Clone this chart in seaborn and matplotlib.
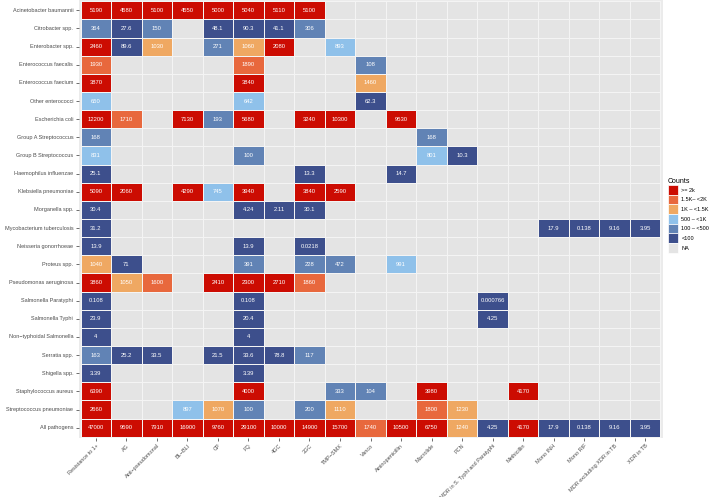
import numpy as np
import pandas as pd
import seaborn as sns
import matplotlib
matplotlib.use("Agg")
import matplotlib.pyplot as plt
from matplotlib.colors import ListedColormap
from matplotlib.patches import Patch

plt.rcParams["font.family"] = ["Liberation Sans", "DejaVu Sans"]

N = np.nan

pathogens = [
    "Acinetobacter baumannii", "Citrobacter spp.", "Enterobacter spp.",
    "Enterococcus faecalis", "Enterococcus faecium", "Other enterococci",
    "Escherichia coli", "Group A Streptococcus", "Group B Streptococcus",
    "Haemophilus influenzae", "Klebsiella pneumoniae", "Morganella spp.",
    "Mycobacterium tuberculosis", "Neisseria gonorrhoeae", "Proteus spp.",
    "Pseudomonas aeruginosa", "Salmonella Paratyphi", "Salmonella Typhi",
    "Non\u2212typhoidal Salmonella", "Serratia spp.", "Shigella spp.",
    "Staphylococcus aureus", "Streptococcus pneumoniae", "All pathogens",
]

classes = [
    "Resistance to 1+", "AG", "Anti\u2212pseudomonal", "BL\u2212BLI", "CP", "FQ",
    "4GC", "3GC", "TMP\u2212SMX", "Vanco", "Aminopenicillin", "Macrolide", "PCN",
    "MDR in S. Typhi and Paratyphi", "Methicillin", "Mono INH", "Mono RIF",
    "MDR excluding XDR in TB", "XDR in TB",
]

values = [
    [5190, 4580, 5100, 4550, 5000, 5040, 5110, 5100, N, N, N, N, N, N, N, N, N, N, N],
    [364, 27.6, 150, N, 48.1, 90.3, 41.1, 306, N, N, N, N, N, N, N, N, N, N, N],
    [2460, 89.6, 1030, N, 271, 1060, 2080, N, 893, N, N, N, N, N, N, N, N, N, N],
    [1930, N, N, N, N, 1890, N, N, N, 108, N, N, N, N, N, N, N, N, N],
    [3870, N, N, N, N, 3840, N, N, N, 1460, N, N, N, N, N, N, N, N, N],
    [650, N, N, N, N, 642, N, N, N, 62.3, N, N, N, N, N, N, N, N, N],
    [12200, 1710, N, 7130, 193, 5680, N, 3240, 10300, N, 9530, N, N, N, N, N, N, N, N],
    [168, N, N, N, N, N, N, N, N, N, N, 168, N, N, N, N, N, N, N],
    [831, N, N, N, N, 100, N, N, N, N, N, 801, 10.3, N, N, N, N, N, N],
    [25.1, N, N, N, N, N, N, 13.3, N, N, 14.7, N, N, N, N, N, N, N, N],
    [5090, 2060, N, 4290, 745, 3940, N, 3840, 2590, N, N, N, N, N, N, N, N, N, N],
    [30.4, N, N, N, N, 4.24, 2.11, 30.1, N, N, N, N, N, N, N, N, N, N, N],
    [31.2, N, N, N, N, N, N, N, N, N, N, N, N, N, N, 17.9, 0.138, 9.16, 3.95],
    [13.9, N, N, N, N, 13.9, N, 0.0218, N, N, N, N, N, N, N, N, N, N, N],
    [1040, 71, N, N, N, 391, N, 228, 472, N, 991, N, N, N, N, N, N, N, N],
    [3860, 1050, 1600, N, 2410, 2300, 2710, 1860, N, N, N, N, N, N, N, N, N, N, N],
    [0.108, N, N, N, N, 0.108, N, N, N, N, N, N, N, 0.000766, N, N, N, N, N],
    [23.9, N, N, N, N, 20.4, N, N, N, N, N, N, N, 4.25, N, N, N, N, N],
    [4, N, N, N, N, 4, N, N, N, N, N, N, N, N, N, N, N, N, N],
    [163, 25.2, 33.5, N, 21.5, 33.6, 78.8, 117, N, N, N, N, N, N, N, N, N, N, N],
    [3.39, N, N, N, N, 3.39, N, N, N, N, N, N, N, N, N, N, N, N, N],
    [6390, N, N, N, N, 4000, N, N, 333, 104, N, 3980, N, N, 4170, N, N, N, N],
    [2660, N, N, 897, 1070, 100, N, 200, 1110, N, N, 1800, 1230, N, N, N, N, N, N],
    [47000, 9590, 7910, 16900, 9760, 29100, 10000, 14900, 15700, 1740, 10500, 6750,
     1240, 4.25, 4170, 17.9, 0.138, 9.16, 3.95],
]

bin_labels = [">= 2k", "1.5K\u2013 <2K", "1K \u2013 <1.5K", "500 \u2013 <1K",
              "100 \u2013 <500", "<100", "NA"]
bin_colors = ["#CC0C02", "#E8683D", "#EFA862", "#8FC1EA", "#6183B5", "#3D4F8C", "#E4E4E4"]
bin_edges = [2000, 1500, 1000, 500, 100]

df = pd.DataFrame(values, index=pathogens, columns=classes)


def to_bin(v):
    if pd.isna(v):
        return 6
    for i, e in enumerate(bin_edges):
        if v >= e:
            return i
    return 5


def fmt(v):
    if pd.isna(v):
        return ""
    if v >= 1000:
        return str(int(round(v)))
    return f"{v:.3g}"


codes = df.apply(lambda col: col.map(to_bin))
annot = df.apply(lambda col: col.map(fmt))

fig = plt.figure(figsize=(7.14, 4.97), dpi=100)
ax = fig.add_axes([78.5 / 714, (497 - 438) / 497, (662.5 - 78.5) / 714, 438 / 497])
ax.set_facecolor("#EBEBEB")

sns.heatmap(codes, ax=ax, cmap=ListedColormap(bin_colors), vmin=-0.5, vmax=6.5,
            annot=annot.values, fmt="", cbar=False, linewidths=0.7, linecolor="#F4F4F4",
            annot_kws={"fontsize": 4.2, "color": "white"})

ax.set_xlim(-0.07, len(classes) + 0.07)
ax.set_ylim(len(pathogens) + 0.07, -0.07)
ax.set_xlabel("")
ax.set_ylabel("")
for s in ax.spines.values():
    s.set_visible(False)

ax.set_yticks(np.arange(len(pathogens)) + 0.5)
ax.set_yticklabels(pathogens, fontsize=4.0, color="#4D4D4D")
ax.set_xticks(np.arange(len(classes)) + 0.5)
ax.set_xticklabels(classes, fontsize=4.0, color="#4D4D4D", rotation=45,
                   ha="right", rotation_mode="anchor")
ax.tick_params(axis="both", length=2, width=0.5, color="#333333", pad=1.8)

handles = [Patch(facecolor=c, edgecolor="white", linewidth=0.5, label=l)
           for c, l in zip(bin_colors, bin_labels)]
leg = fig.legend(handles=handles, title="Counts", loc="upper left",
                 bbox_to_anchor=(668 / 714, 1 - 178 / 497), frameon=False,
                 fontsize=4.0, title_fontsize=5.0, handlelength=1.8, handleheight=2.3,
                 handletextpad=0.6, labelspacing=0.0, borderaxespad=0, borderpad=0)
leg._legend_box.align = "left"

fig.savefig("out.png", dpi=100)
